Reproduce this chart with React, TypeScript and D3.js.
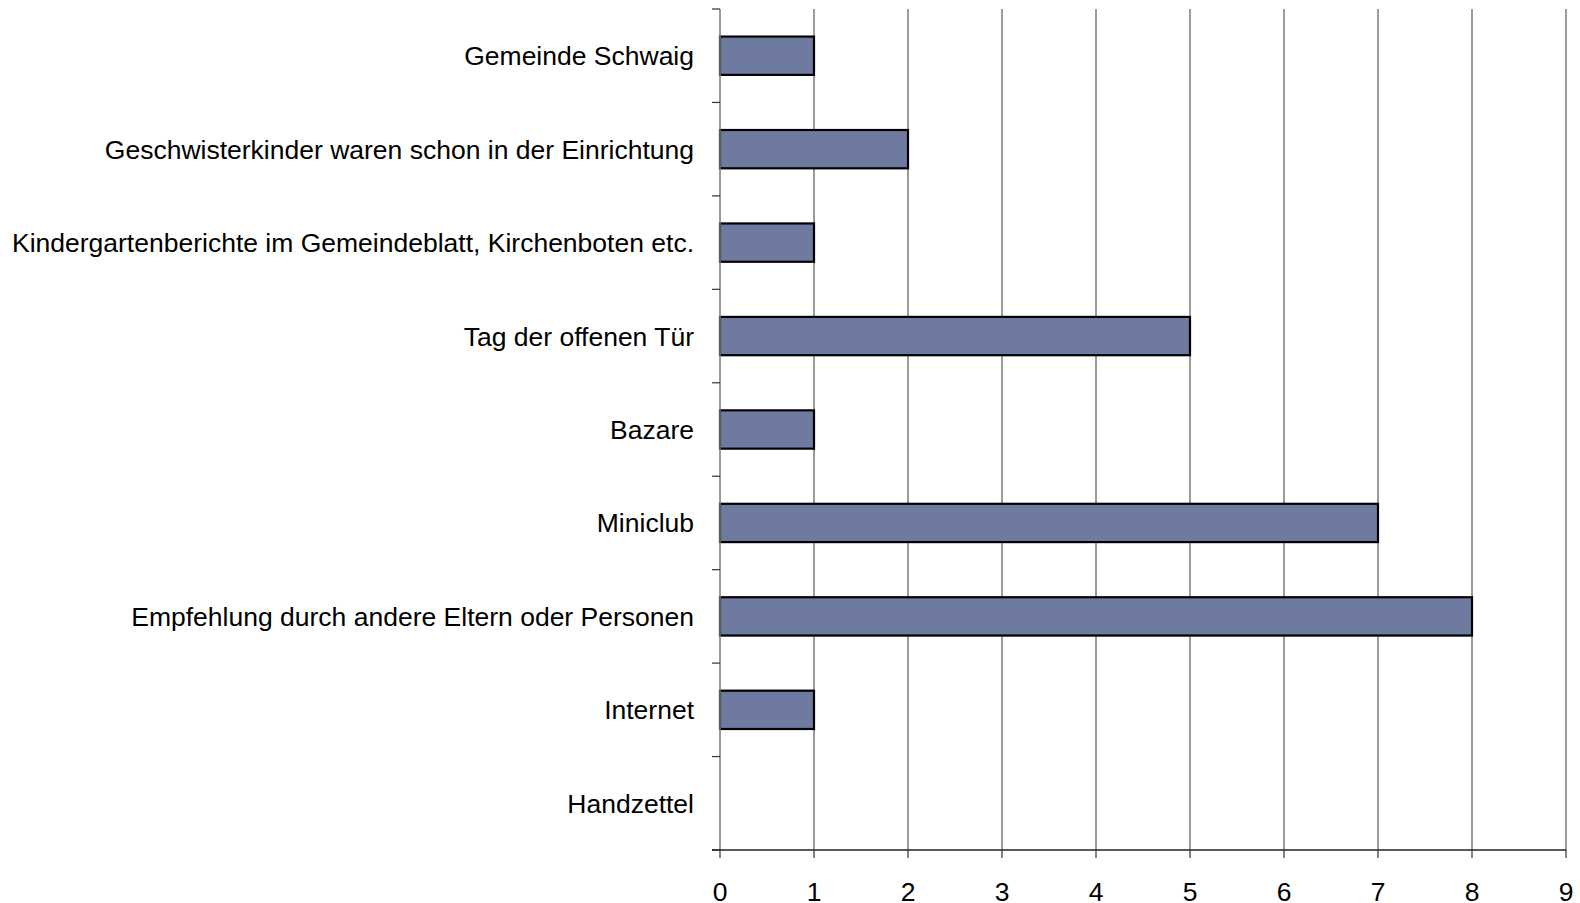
import React, { useRef, useEffect } from 'react';
import * as d3 from 'd3';

const categories = [
  'Gemeinde Schwaig',
  'Geschwisterkinder waren schon in der Einrichtung',
  'Kindergartenberichte im Gemeindeblatt, Kirchenboten etc.',
  'Tag der offenen Tür',
  'Bazare',
  'Miniclub',
  'Empfehlung durch andere Eltern oder Personen',
  'Internet',
  'Handzettel',
];
const values = [1, 2, 1, 5, 1, 7, 8, 1, 0];
const xTicks = [0, 1, 2, 3, 4, 5, 6, 7, 8, 9];

const App: React.FC = () => {
  const svgRef = useRef<SVGSVGElement | null>(null);

  useEffect(() => {
    if (!svgRef.current) return;
    const W = 1580;
    const H = 903;
    const margin = { top: 9, right: 14, bottom: 53, left: 720 };
    const width = W - margin.left - margin.right;
    const height = H - margin.top - margin.bottom;
    const font = 'Liberation Sans, Arial, sans-serif';

    const svg = d3.select(svgRef.current);
    svg.selectAll('*').remove();
    svg.attr('width', W).attr('height', H).style('background', '#fff');

    const g = svg.append('g').attr('transform', `translate(${margin.left},${margin.top})`);

    const x = d3.scaleLinear().domain([0, 9]).range([0, width]);
    const y = d3.scaleBand().domain(categories).range([0, height]);
    const barH = y.bandwidth() * 0.41;

    // 세로 그리드
    g.append('g')
      .selectAll('line')
      .data(xTicks.slice(1))
      .enter()
      .append('line')
      .attr('x1', (d) => x(d))
      .attr('x2', (d) => x(d))
      .attr('y1', 0)
      .attr('y2', height)
      .attr('stroke', '#7a7a7a')
      .attr('stroke-width', 1.5);

    // 막대
    const bars = categories.map((c, i) => ({ c, v: values[i] })).filter((d) => d.v > 0);
    g.append('g')
      .selectAll('rect')
      .data(bars)
      .enter()
      .append('rect')
      .attr('x', x(0))
      .attr('y', (d) => y(d.c)! + (y.bandwidth() - barH) / 2)
      .attr('width', (d) => x(d.v) - x(0))
      .attr('height', barH)
      .attr('fill', '#6F7AA0')
      .attr('stroke', '#000')
      .attr('stroke-width', 2.2);

    // y축
    const yAxisG = g.append('g');
    yAxisG
      .append('line')
      .attr('x1', 0)
      .attr('x2', 0)
      .attr('y1', 0)
      .attr('y2', height)
      .attr('stroke', '#7a7a7a')
      .attr('stroke-width', 1.5);
    const yTickPos = categories.map((c) => y(c)!).concat([height]);
    yAxisG
      .selectAll('.ytick')
      .data(yTickPos)
      .enter()
      .append('line')
      .attr('x1', -8)
      .attr('x2', 0)
      .attr('y1', (d) => d)
      .attr('y2', (d) => d)
      .attr('stroke', '#333')
      .attr('stroke-width', 1.2);
    yAxisG
      .selectAll('.ylabel')
      .data(categories)
      .enter()
      .append('text')
      .attr('x', -26)
      .attr('y', (d) => y(d)! + y.bandwidth() / 2)
      .attr('dy', '0.36em')
      .attr('text-anchor', 'end')
      .attr('font-family', font)
      .attr('font-size', 26.5)
      .attr('fill', '#000')
      .text((d) => d);

    // x축
    const xAxisG = g.append('g').attr('transform', `translate(0,${height})`);
    xAxisG
      .append('line')
      .attr('x1', -8)
      .attr('x2', width)
      .attr('y1', 0)
      .attr('y2', 0)
      .attr('stroke', '#222')
      .attr('stroke-width', 1.5);
    xAxisG
      .selectAll('.xtick')
      .data(xTicks)
      .enter()
      .append('line')
      .attr('x1', (d) => x(d))
      .attr('x2', (d) => x(d))
      .attr('y1', 0)
      .attr('y2', 8)
      .attr('stroke', '#333')
      .attr('stroke-width', 1.2);
    xAxisG
      .selectAll('.xlabel')
      .data(xTicks)
      .enter()
      .append('text')
      .attr('x', (d) => x(d))
      .attr('y', 51)
      .attr('text-anchor', 'middle')
      .attr('font-family', font)
      .attr('font-size', 26.5)
      .attr('fill', '#000')
      .text((d) => String(d));
  }, []);

  return <svg ref={svgRef} style={{ display: 'block', position: 'absolute', left: 0, top: 0 }} />;
};

export default App;
